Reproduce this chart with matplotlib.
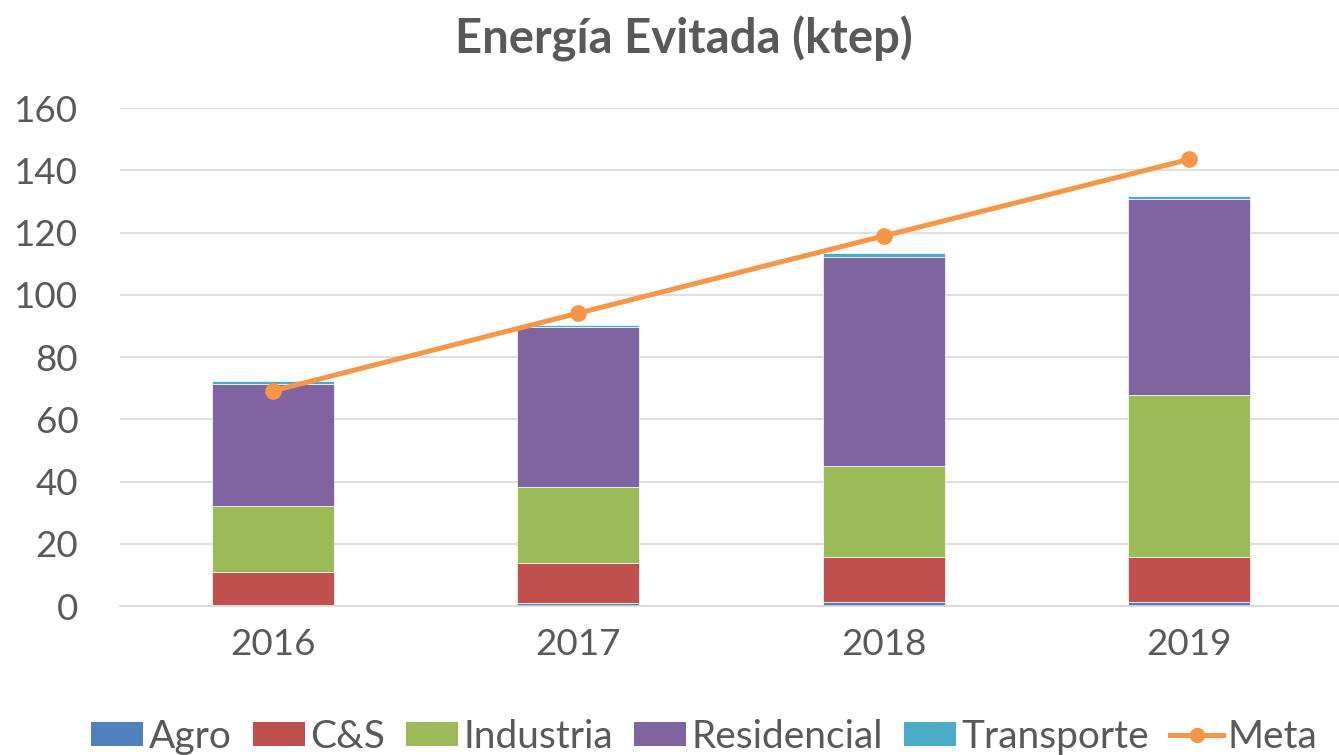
import matplotlib
matplotlib.use("Agg")
import matplotlib.pyplot as plt
import numpy as np
from matplotlib.lines import Line2D
from matplotlib.patches import Patch

years = ["2016", "2017", "2018", "2019"]
agro = [0.3, 0.9, 1.2, 1.2]
cys = [10.7, 13.0, 14.5, 14.5]
industria = [21.0, 24.3, 29.3, 52.1]
residencial = [39.3, 51.4, 67.1, 63.0]
transporte = [1.0, 0.7, 1.2, 1.0]
meta = [69.1, 94.1, 118.9, 143.5]

series_names = ["Agro", "C&S", "Industria", "Residencial", "Transporte"]
series_vals = [agro, cys, industria, residencial, transporte]
colors = ["#4F81BD", "#C0504D", "#9BBB59", "#8064A2", "#4BACC6"]
meta_color = "#F79646"
text_color = "#595959"

plt.rcParams['font.family'] = ['Lato', 'DejaVu Sans']

fig = plt.figure(figsize=(13.39, 7.55), dpi=100)
ax = fig.add_axes([120 / 1339, (755 - 606) / 755, 1222 / 1339, 498 / 755])

x = np.arange(len(years))
bottom = np.zeros(len(years))
for name, vals, c in zip(series_names, series_vals, colors):
    ax.bar(x, vals, width=0.4, bottom=bottom, color=c, edgecolor="white",
           linewidth=0.5, label=name, zorder=2)
    bottom += np.array(vals)

ax.plot(x, meta, color=meta_color, linewidth=3.6, marker="o", markersize=11,
        zorder=3, label="Meta")

ax.set_xlim(-0.5, 3.5)
ax.set_ylim(0, 160)
ax.set_yticks(np.arange(0, 161, 20))
ax.set_xticks(x)
ax.set_xticklabels(years)
ax.grid(axis="y", color="#D9D9D9", linewidth=1.2, zorder=0)
ax.set_axisbelow(True)
for s in ["top", "right", "left"]:
    ax.spines[s].set_visible(False)
ax.spines["bottom"].set_color("#D9D9D9")
ax.spines["bottom"].set_linewidth(1.2)
ax.tick_params(axis="both", length=0, labelsize=26.5, colors=text_color)
ax.tick_params(axis="y", pad=30)
ax.tick_params(axis="x", pad=16)

fig.text(0.511, 0.948, "Energía Evitada (ktep)", ha="center", va="center",
         fontsize=34, fontweight="bold", color=text_color)

handles = [Patch(facecolor=c, edgecolor="none") for c in colors]
handles.append(Line2D([0], [0], color=meta_color, linewidth=3.6, marker="o", markersize=10))
leg = fig.legend(handles, series_names + ["Meta"], loc="center",
                 bbox_to_anchor=(0.526, 0.024), ncol=6, frameon=False,
                 fontsize=28, handlelength=1.34, handleheight=0.59,
                 handletextpad=0.13, columnspacing=0.55, labelcolor=text_color,
                 borderpad=0.2)

fig.savefig("out.png", dpi=100)
